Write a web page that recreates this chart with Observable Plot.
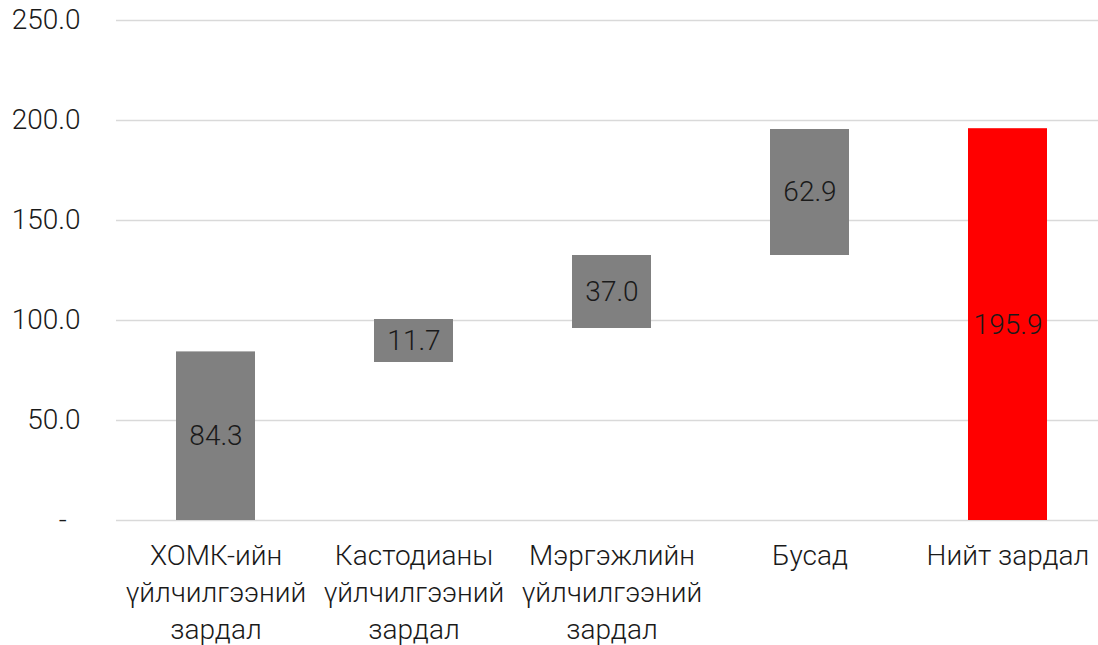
<!DOCTYPE html>
<html>
<head>
<meta charset="utf-8">
<script src="https://cdn.jsdelivr.net/npm/d3@7"></script>
<script src="https://cdn.jsdelivr.net/npm/@observablehq/plot@0.6"></script>
<style>
  html, body { margin: 0; padding: 0; background: #fff; }
  #chart { width: 1098px; height: 645px; overflow: hidden; }
</style>
</head>
<body>
<div id="chart"></div>
<script>
const categories = [
  "ХОМК-ийн\nүйлчилгээний\nзардал",
  "Кастодианы\nүйлчилгээний\nзардал",
  "Мэргэжлийн\nүйлчилгээний\nзардал",
  "Бусад",
  "Нийт зардал"
];
const labels = [84.3, 11.7, 37.0, 62.9, 195.9];
const bases = [0, 79, 96, 132.5, 0];
const tops = [84.3, 100.5, 132.5, 195.5, 195.9];
const isTotal = [false, false, false, false, true];
const yTicks = [0, 50, 100, 150, 200, 250];

const data = categories.map((c, i) => ({
  cat: c, label: labels[i], y1: bases[i], y2: tops[i], total: isTotal[i]
}));

const font = "Roboto, 'Noto Sans', sans-serif";

const chart = Plot.plot({
  width: 1098,
  height: 645,
  marginLeft: 116,
  marginRight: 0,
  marginTop: 20,
  marginBottom: 125,
  style: { fontFamily: font, fontWeight: 300, background: "#fff", color: "#1a1a1a" },
  x: { domain: categories, range: [116, 1108], paddingInner: 0.6, paddingOuter: 0.3 },
  y: { domain: [0, 250], ticks: yTicks },
  marks: [
    Plot.ruleY(yTicks, { stroke: "#d9d9d9", strokeWidth: 1.5 }),
    Plot.barY(data, {
      x: "cat", y1: "y1", y2: "y2",
      fill: d => d.total ? "#ff0000" : "#808080"
    }),
    Plot.text(data, {
      x: "cat", y: d => (d.y1 + d.y2) / 2,
      text: d => d.label.toFixed(1),
      fontSize: 28, fontWeight: 300, fill: "#1a1a1a"
    }),
    Plot.axisY({
      ticks: yTicks,
      tickSize: 0,
      tickPadding: 36,
      fontSize: 28,
      fontWeight: 300,
      tickFormat: d => d === 0 ? "-\u00A0\u00A0" : d.toFixed(1),
      label: null
    }),
    Plot.axisX({
      tickSize: 0,
      tickPadding: 18,
      fontSize: 28,
      fontWeight: 300,
      lineHeight: 1.32,
      label: null
    })
  ]
});

document.getElementById("chart").appendChild(chart);
</script>
</body>
</html>
